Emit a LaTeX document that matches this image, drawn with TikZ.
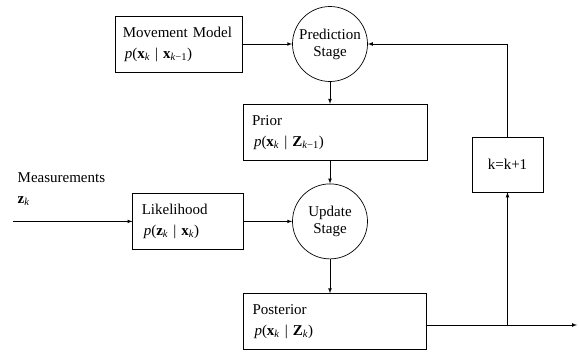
\documentclass[tikz,border=0pt]{standalone}
\usepackage{amsmath}
\usepackage{fontspec}
\setmainfont{Liberation Serif}
\usetikzlibrary{arrows,positioning}

\newcommand{\vx}{\textbf{x}}
\newcommand{\vz}{\textbf{z}}
\newcommand{\vZ}{\textbf{Z}}
\newcommand{\ik}{\textit{k}}

\begin{document}
\begin{tikzpicture}[x=1pt,y=-1pt,->,>=latex,line width=0.7pt,
                box/.style={draw,rectangle,align=left,inner xsep=9pt,minimum height=56pt,font=\fontsize{15}{21}\selectfont},
                stage/.style={draw,circle,minimum size=75pt,inner sep=0pt,align=center,font=\fontsize{15}{17}\selectfont}]
  \useasboundingbox (0,0) rectangle (579,354);
  \node[stage] (pred) at (330,44) {Prediction\\Stage};
  \node[box,text width=113pt,inner xsep=7pt] (move) [left=49pt of pred] {Movement Model\\\hspace{2pt}\textit{p}(\vx\textsubscript{\ik} | \vx\textsubscript{\ik−1})};
  \node[box,text width=166pt] (prior) [below=22pt of pred,xshift=5pt] {Prior\\\hspace{2pt}\textit{p}(\vx\textsubscript{\ik} | \vZ\textsubscript{\ik−1})};
  \node[stage] (update) [below=23pt of prior,xshift=-5pt] {Update\\Stage};
  \node[box,text width=93pt] (like) [left=48pt of update] {Likelihood\\\hspace{2pt}\textit{p}(\vz\textsubscript{\ik} | \vx\textsubscript{\ik})};
  \node[box,text width=165pt] (post) [below=34pt of update,xshift=5pt] {Posterior\\\hspace{2pt}\textit{p}(\vx\textsubscript{\ik} | \vZ\textsubscript{\ik})};
  \node[draw,rectangle,minimum width=71pt,minimum height=55pt,font=\fontsize{15}{18}\selectfont] (kbox) at (507.5,164.5) {k=k+1};
  \node[align=left,anchor=west,font=\fontsize{15}{21}\selectfont] (meas) at (14,189) {Measurements\\\vz\textsubscript{\ik}};

  \coordinate (leftend) at (13,0);
  \coordinate (outy) at (577,325);

  \path
    (leftend |- like.west) edge (like.west)
    (move) edge (pred)
    (like) edge (update)
  ;
  \draw (pred.south) -- (pred.south |- prior.north);
  \draw (update.south) -- (update.south |- post.north);
  \draw (prior.south -| update.north) -- (update.north);
  \draw (post.east |- outy) -- (outy);
  \draw (kbox.south |- outy) -- (kbox.south);
  \draw (kbox.north) |- (pred.east);
\end{tikzpicture}
\end{document}
